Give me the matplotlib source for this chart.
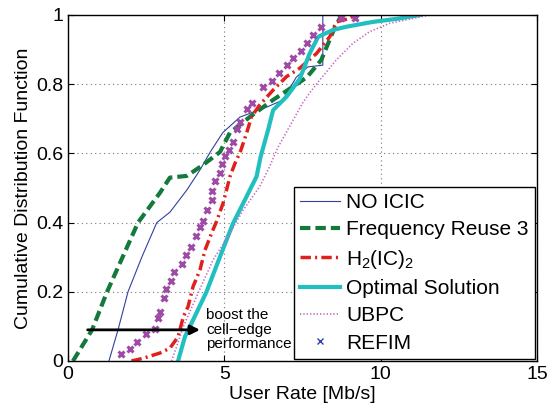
import matplotlib
matplotlib.use("Agg")
import matplotlib.pyplot as plt
from matplotlib.lines import Line2D

plt.rcParams['font.family'] = ['Liberation Sans', 'DejaVu Sans']
plt.rcParams['mathtext.default'] = 'regular'

# CDF curves (x in Mb/s, y cumulative prob)
noicic_x = [1.31, 1.6, 1.92, 2.36, 2.84, 3.26, 3.8, 4.22, 4.55, 4.95, 5.5, 6.36, 6.87, 7.3, 7.67, 8.15, 8.15]
noicic_y = [0.0, 0.09, 0.2, 0.3, 0.4, 0.43, 0.494, 0.552, 0.604, 0.66, 0.705, 0.734, 0.754, 0.82, 0.85, 0.855, 1.0]

fr3_x = [0.16, 0.77, 1.25, 2.24, 2.94, 3.26, 3.8, 4.31, 4.86, 5.18, 5.81, 6.55, 7.64, 8.1, 8.5, 8.75]
fr3_y = [0.0, 0.09, 0.2, 0.4, 0.486, 0.53, 0.535, 0.566, 0.604, 0.66, 0.705, 0.754, 0.82, 0.87, 0.957, 1.0]

h2_x = [2.03, 2.41, 2.94, 3.26, 3.52, 3.69, 3.84, 4.0, 4.22, 4.38, 4.59, 4.75, 4.96, 5.07, 5.18, 5.34,
        5.52, 5.71, 5.87, 6.13, 6.56, 6.99, 7.41, 7.95, 8.37, 8.58, 9.0, 9.2]
h2_y = [0.0, 0.008, 0.023, 0.037, 0.07, 0.128, 0.157, 0.215, 0.263, 0.32, 0.369, 0.403, 0.456, 0.494, 0.533, 0.571,
        0.607, 0.658, 0.706, 0.74, 0.783, 0.822, 0.846, 0.889, 0.937, 0.98, 0.99, 1.0]

opt_x = [3.52, 3.74, 3.95, 4.43, 4.86, 5.28, 5.71, 6.03, 6.16, 6.4, 6.56, 6.99, 7.41, 7.73, 8.0, 8.48, 8.9, 9.75, 10.6, 11.25]
opt_y = [0.0, 0.07, 0.109, 0.2, 0.301, 0.398, 0.475, 0.533, 0.59, 0.668, 0.725, 0.764, 0.815, 0.889, 0.937, 0.957, 0.966, 0.98, 0.99, 1.0]

ubpc_x = [3.31, 3.47, 3.69, 4.11, 4.64, 5.18, 5.6, 6.13, 6.45, 6.7, 7.1, 7.5, 7.73, 8.05, 8.58, 9.11, 9.65, 10.29, 11.03, 11.57, 14.4]
ubpc_y = [0.0, 0.04, 0.1, 0.186, 0.292, 0.369, 0.436, 0.504, 0.562, 0.615, 0.68, 0.745, 0.775, 0.812, 0.87, 0.918, 0.952, 0.976, 0.99, 1.0, 1.0]

refim_x = [1.71, 1.98, 2.22, 2.51, 2.78, 2.89, 2.94, 3.07, 3.15, 3.29, 3.4, 3.66, 3.77, 3.95, 4.09, 4.22, 4.32,
           4.43, 4.59, 4.62, 4.7, 4.86, 4.92, 5.02, 5.16, 5.28, 5.39, 5.5, 5.71, 5.87, 6.24, 6.51, 6.74, 7.02,
           7.2, 7.44, 7.63, 7.84, 8.1, 8.74, 9.17]
refim_y = [0.02, 0.035, 0.056, 0.077, 0.092, 0.123, 0.142, 0.183, 0.207, 0.231, 0.256, 0.279, 0.306, 0.33, 0.361,
           0.388, 0.405, 0.436, 0.465, 0.492, 0.52, 0.542, 0.569, 0.592, 0.61, 0.634, 0.67, 0.692, 0.727, 0.745,
           0.791, 0.81, 0.833, 0.855, 0.875, 0.897, 0.918, 0.942, 0.966, 0.99, 0.99]

labels = ['NO ICIC', 'Frequency Reuse 3', 'H$_2$(IC)$_2$', 'Optimal Solution', 'UBPC', 'REFIM']

blue = '#3040a0'
green = '#137a3c'
red = '#e0201c'
cyan = '#22bfc0'
pink = '#c46ac4'
purple = '#a04aa8'

fig = plt.figure(figsize=(5.5, 4.12), dpi=100)
ax = fig.add_axes([0.1236, 0.1238, 0.8528, 0.8398])

ax.plot(noicic_x, noicic_y, color=blue, lw=0.8)
ax.plot(fr3_x, fr3_y, color=green, lw=3, ls=(0, (2.5, 1.2)))
ax.plot(h2_x, h2_y, color=red, lw=2.5, ls=(0, (3, 1.2, 0.6, 1.2)))
ax.plot(opt_x, opt_y, color=cyan, lw=3)
ax.plot(ubpc_x, ubpc_y, color=pink, lw=1.2, ls=(0, (0.8, 1.2)))
ax.plot(refim_x, refim_y, ls='none', marker='x', color=purple, ms=4.5, mew=2.2)

# arrow and annotation
ax.annotate('', xy=(4.31, 0.09), xytext=(0.54, 0.09),
            arrowprops=dict(arrowstyle='-|>', color='black', lw=2, mutation_scale=14))
ax.text(4.41, 0.09, 'boost the\ncell\u2212edge\nperformance', fontsize=11, va='center', ha='left',
        linespacing=1.05)

ax.set_xlim(0, 15)
ax.set_ylim(0, 1)
ax.set_xticks([0, 5, 10, 15])
ax.set_yticks([0, 0.2, 0.4, 0.6, 0.8, 1])
ax.set_yticklabels(['0', '0.2', '0.4', '0.6', '0.8', '1'])
ax.tick_params(direction='in', labelsize=14, length=4, top=True, right=True)
ax.grid(True, ls=(0, (1, 3)), color='#777777', lw=0.8)
for s in ax.spines.values():
    s.set_linewidth(1.0)
ax.set_xlabel('User Rate [Mb/s]', fontsize=14, labelpad=2)
ax.set_ylabel('Cumulative Distribution Function', fontsize=14, labelpad=3)

handles = [
    Line2D([], [], color=blue, lw=0.8),
    Line2D([], [], color=green, lw=3, ls=(0, (2.5, 1.2))),
    Line2D([], [], color=red, lw=2.5, ls=(0, (3, 1.2, 0.6, 1.2))),
    Line2D([], [], color=cyan, lw=3),
    Line2D([], [], color=pink, lw=1.2, ls=(0, (0.8, 1.2))),
    Line2D([], [], ls='none', marker='x', color='#3040b0', ms=4, mew=1),
]
leg = ax.legend(handles, labels, loc='lower right', fontsize=15, frameon=True, fancybox=False,
                borderaxespad=0.1, handlelength=1.9, handletextpad=0.3, labelspacing=0.4,
                borderpad=0.3)
leg.get_frame().set_edgecolor('black')
leg.get_frame().set_linewidth(1.0)
leg.get_frame().set_alpha(1)

fig.savefig('out.png', dpi=100)
